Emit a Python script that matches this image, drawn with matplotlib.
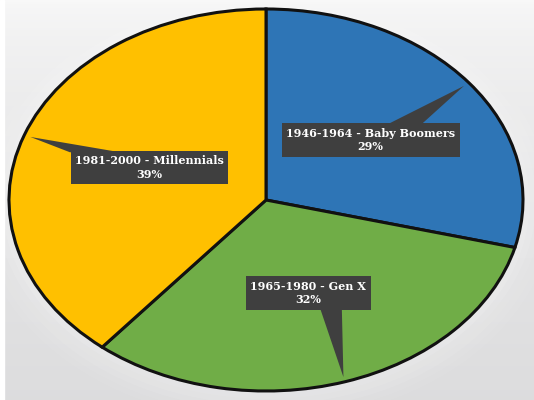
import numpy as np
import matplotlib
matplotlib.use('Agg')
import matplotlib.pyplot as plt
from matplotlib.patches import Ellipse, Polygon

# generations / share of total (%)
labels = ['1946-1964 - Baby Boomers', '1965-1980 - Gen X', '1981-2000 - Millennials']
shares = [29, 32, 39]
colors = ['#2E75B6', '#70AD47', '#FFC000']

# label box centres (data units, pie centre = 0,0) - layout only
box_pos = [(0.407, 0.314), (0.165, -0.487), (-0.453, 0.170)]
# pointer base on the box edge: (x offset left, x offset right, y offset)
ptr_base = [(0.07, 0.20, 0.085), (0.045, 0.13, -0.078), (-0.31, -0.115, 0.08)]

W, H = 534, 400
fig = plt.figure(figsize=(W / 100, H / 100), dpi=100)

# background: light grey with a pale top
bg = fig.add_axes([0, 0, 1, 1], zorder=0)
grad = np.linspace(0, 1, 200)[:, None]
top = np.array([0.975, 0.975, 0.975])
bot = np.array([0.865, 0.865, 0.87])
img = top[None, None, :] * (1 - grad[..., None] ** 0.6) + bot[None, None, :] * grad[..., None] ** 0.6
bg.imshow(img, aspect='auto', extent=[0, 1, 0, 1])
bg.axvspan(0, 0.008, color='white')
bg.set_axis_off()

ax = fig.add_axes([0, 0, 1, 1], zorder=1)
ax.patch.set_alpha(0)

# soft white glow around the pie
for i, a in enumerate(np.linspace(0.10, 0.02, 6)):
    ax.add_patch(Ellipse((0, -0.01), 2.0 + 0.05 * (i + 1), 2.0 + 0.06 * (i + 1),
                         fc='white', ec='none', alpha=a, zorder=0))

wedges, _ = ax.pie(shares, colors=colors, startangle=90, counterclock=False,
                   wedgeprops=dict(edgecolor='#111111', linewidth=2.2))
for w in wedges:
    w.set_zorder(2)

ax.set_aspect('auto')
ax.set_xlim(-266 / 257, (W - 266) / 257)
ax.set_ylim(-(H - 200) / 191, 200 / 191)
ax.set_axis_off()

box_c = '#3F3F3F'
cum = np.cumsum([0] + shares)
for i, (lab, s) in enumerate(zip(labels, shares)):
    mid = np.deg2rad(90 - (cum[i] + s / 2) * 3.6)
    tip = (0.975 * np.cos(mid), 0.975 * np.sin(mid))
    bx, by = box_pos[i]
    x0, x1, dy = ptr_base[i]
    ax.add_patch(Polygon([tip, (bx + x0, by + dy), (bx + x1, by + dy)], closed=True,
                         fc=box_c, ec='none', zorder=3))
    ax.text(bx, by, f'{lab}\n{s}%', ha='center', va='center', color='white',
            fontsize=8, fontweight='bold', family='DejaVu Serif', linespacing=1.3,
            zorder=4,
            bbox=dict(boxstyle='square,pad=0.4', fc=box_c, ec='none'))

fig.savefig('out.png', dpi=100)
